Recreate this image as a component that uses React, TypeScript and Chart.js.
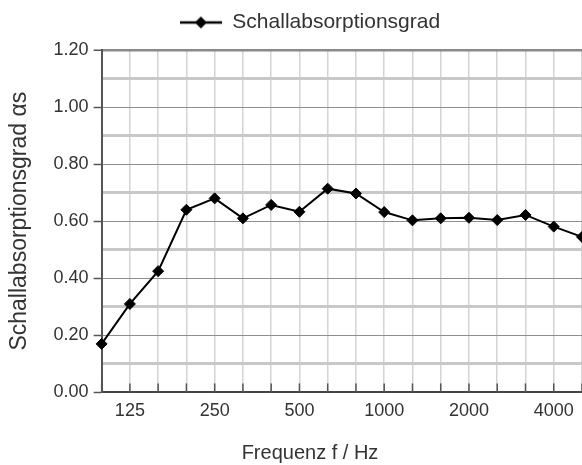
import React, { useEffect, useRef } from "react";
import { Chart, registerables } from "chart.js";

Chart.register(...registerables);

const categories = ["100", "125", "160", "200", "250", "315", "400", "500", "630", "800", "1000", "1250", "1600", "2000", "2500", "3150", "4000", "5000"];
const absorption = [0.17, 0.31, 0.425, 0.64, 0.68, 0.61, 0.657, 0.633, 0.714, 0.697, 0.632, 0.603, 0.61, 0.612, 0.604, 0.622, 0.581, 0.545];
const shownXLabels = ["125", "250", "500", "1000", "2000", "4000"];
const seriesName = "Schallabsorptionsgrad";
const xTitle = "Frequenz f / Hz";
const yTitle = "Schallabsorptionsgrad αs";

const FONT = "'Liberation Sans', Arial, sans-serif";
const TEXT = "#333333";

function makeLegendImage() {
  const c = document.createElement("canvas");
  c.width = 42;
  c.height = 14;
  const g = c.getContext("2d")!;
  g.strokeStyle = "#000";
  g.lineWidth = 2.5;
  g.beginPath();
  g.moveTo(0, 7);
  g.lineTo(42, 7);
  g.stroke();
  g.fillStyle = "#000";
  g.beginPath();
  g.moveTo(21, 1);
  g.lineTo(27, 7);
  g.lineTo(21, 13);
  g.lineTo(15, 7);
  g.closePath();
  g.fill();
  return c;
}

const legendSpacer = {
  id: "legendSpacer",
  beforeInit(chart: any) {
    const legend = chart.legend;
    if (!legend) return;
    const orig = legend.fit.bind(legend);
    legend.fit = function () {
      orig();
      this.height += 7;
    };
  },
};

const innerTicks = {
  id: "innerTicks",
  beforeDatasetsDraw(chart: any) {
    const x = chart.scales.x;
    const area = chart.chartArea;
    const ctx = chart.ctx;
    ctx.save();
    ctx.strokeStyle = "#555";
    ctx.lineWidth = 1.5;
    for (let i = 0; i < x.ticks.length; i++) {
      const px = x.getPixelForTick(i);
      ctx.beginPath();
      ctx.moveTo(px, area.bottom - 9);
      ctx.lineTo(px, area.bottom);
      ctx.stroke();
    }
    ctx.restore();
  },
};

export default function App() {
  const ref = useRef<HTMLCanvasElement | null>(null);
  useEffect(() => {
    if (!ref.current) return;
    const legendImg = makeLegendImage();
    const tenth = (v: number) => Math.round(v * 10);
    const chart = new Chart(ref.current, {
      type: "line",
      data: {
        labels: categories,
        datasets: [
          {
            label: seriesName,
            data: absorption,
            borderColor: "#000",
            backgroundColor: "#000",
            borderWidth: 2,
            pointStyle: "rectRot",
            pointRadius: 5.5,
            pointBackgroundColor: "#000",
            pointBorderColor: "#000",
            pointBorderWidth: 1,
            tension: 0,
            yAxisID: "y",
          },
        ],
      },
      options: {
        responsive: false,
        animation: false,
        layout: { padding: { left: 0, right: 0, top: 1, bottom: 0 } },
        plugins: {
          legend: {
            position: "top",
            labels: {
              usePointStyle: true,
              pointStyle: legendImg as any,
              pointStyleWidth: 42,
              color: TEXT,
              font: { family: FONT, size: 21 },
              padding: 11,
            },
          },
          title: {
            display: true,
            position: "bottom",
            text: xTitle,
            color: TEXT,
            font: { family: FONT, size: 20, weight: "normal" },
            padding: { top: 11, bottom: 0 },
          },
          tooltip: { enabled: false },
        },
        scales: {
          x: {
            type: "category",
            offset: false,
            grid: { color: "#d4d4d4", lineWidth: 1.5, drawTicks: false },
            border: { color: "#444", width: 2 },
            ticks: {
              autoSkip: false,
              maxRotation: 0,
              padding: 8,
              color: TEXT,
              font: { family: FONT, size: 18 },
              callback: (_v: any, i: number) => (shownXLabels.includes(categories[i]) ? categories[i] : ""),
            },
          },
          y: {
            type: "linear",
            position: "left",
            min: 0,
            max: 1.2,
            grid: {
              color: (c: any) => {
                const t = tenth(c.tick.value);
                if (t === 12) return "#8a8a8a";
                return t % 2 === 0 ? "#8e8e8e" : "#c8c8c8";
              },
              lineWidth: (c: any) => {
                const t = tenth(c.tick.value);
                if (t === 12) return 2.5;
                return t % 2 === 0 ? 1 : 3;
              },
              tickColor: (c: any) => (tenth(c.tick.value) % 2 === 0 ? "#555" : "rgba(0,0,0,0)"),
              tickLength: 8,
              tickWidth: 1.5,
            },
            border: { color: "#555", width: 2 },
            title: {
              display: true,
              text: yTitle,
              color: TEXT,
              font: { family: FONT, size: 23 },
              padding: { top: 6, bottom: 15 },
            },
            ticks: {
              stepSize: 0.1,
              autoSkip: false,
              padding: 5,
              color: TEXT,
              font: { family: FONT, size: 18 },
              callback: (v: any) => (tenth(Number(v)) % 2 === 0 ? Number(v).toFixed(2) : ""),
            },
          },
          yRight: {
            type: "linear",
            position: "right",
            display: true,
            grid: { display: false, drawTicks: false },
            border: { display: false },
            ticks: { display: false },
            afterFit: (s: any) => {
              s.width = 38;
            },
          },
        },
      },
      plugins: [legendSpacer, innerTicks],
    });
    return () => chart.destroy();
  }, []);

  return (
    <div style={{ position: "fixed", left: 0, top: 0, width: 582, height: 465, overflow: "hidden", background: "#fff" }}>
      <canvas ref={ref} width={620} height={465} style={{ display: "block", width: 620, height: 465 }} />
    </div>
  );
}
